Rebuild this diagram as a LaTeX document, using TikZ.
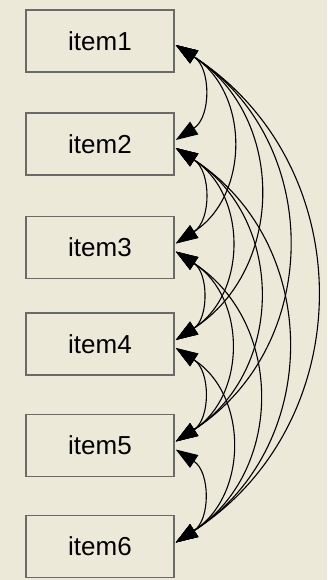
\documentclass[tikz,border=0pt]{standalone}
\usepackage{fontspec}
\setmainfont{Liberation Sans}
\usetikzlibrary{arrows.meta}
\definecolor{bg}{HTML}{ECE9D8}
\definecolor{boxline}{HTML}{6A6A6A}
\begin{document}
\begin{tikzpicture}[x=1pt,y=1pt,
  itembox/.style={draw=boxline, line width=1.5pt, fill=bg, minimum width=148pt,
    minimum height=62pt, inner sep=0pt, font=\fontsize{26}{30}\selectfont},
  cov/.style={line width=1.1pt, draw=black,
    {Triangle[length=22pt,width=15pt]}-{Triangle[length=22pt,width=15pt]}}]
\fill[bg] (0,0) rectangle (327,-580);
\useasboundingbox (0,0) rectangle (327,-580);
\node[itembox] (item1) at (100,-41) {item1};
\node[itembox] (item2) at (100,-144) {item2};
\node[itembox] (item3) at (100,-247.5) {item3};
\node[itembox] (item4) at (100,-344) {item4};
\node[itembox] (item5) at (100,-445.5) {item5};
\node[itembox] (item6) at (100,-546.5) {item6};
\foreach \i/\j in {1/2,1/3,1/4,1/5,1/6,2/3,2/4,2/5,2/6,3/4,3/5,3/6,4/5,4/6,5/6}
  \draw[cov] ([shift={(1pt,-4pt)}]item\i.east) to[out=-33, in=33, looseness=1.14]
             ([shift={(1pt,4pt)}]item\j.east);
\end{tikzpicture}
\end{document}
